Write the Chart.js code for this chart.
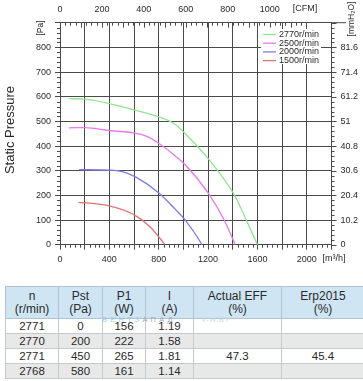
<!DOCTYPE html>
<html>
<head>
<meta charset="utf-8">
<script src="https://cdn.jsdelivr.net/npm/chart.js@4.4.1/dist/chart.umd.min.js"></script>
<style>
  html, body { margin: 0; padding: 0; }
  body { background: #fff; width: 363px; height: 381px; overflow: hidden; position: relative;
         font-family: "Liberation Sans", Arial, sans-serif; color: #2a2a2a; }
  #fan-chart { position: absolute; left: 0; top: 0; }
  #specs { position: absolute; left: 5px; top: 286px; width: 353px; border-collapse: collapse; table-layout: fixed; }
  #specs th { background: #cfe5f4; font-weight: normal; font-size: 12px; line-height: 13px; height: 31px;
              padding: 0; border: 1px solid #b3c2cc; color: #2a2a2a; }
  #specs td { font-size: 11.5px; height: 14px; line-height: 14px; padding: 0; text-align: center;
              border: 1px solid #c4c9cc; color: #2a2a2a; }
  #specs tr:nth-child(even) td { background: #e8e8e8; }
  .wm { position: absolute; top: 316px; font-size: 7.5px; line-height: 8px; letter-spacing: 3.2px; }
</style>
</head>
<body>
<canvas id="fan-chart" width="363" height="283"></canvas>
<table id="specs"><thead><tr></tr></thead><tbody></tbody></table>
<span class="wm" style="left:102px"><span style="color:#9ccbec">ВЕНТЗ</span><span style="color:#a8a8a8">АПАД</span></span>
<span class="wm" style="left:201px;color:#c9d9e6;letter-spacing:0.5px">V-W.BY</span>
<script>
// fan curves, flow in m3/h, static pressure in Pa
const flow2770 = [73, 204, 408, 612, 803, 884, 939, 1015, 1211, 1415, 1500, 1600];
const pst2770  = [592, 590, 571, 545, 518, 502, 486, 450, 343, 200, 110, 0];
const flow2500 = [73, 204, 408, 612, 718, 803, 939, 1015, 1211, 1330, 1420];
const pst2500  = [474, 475, 462, 452, 436, 410, 358, 324, 202, 100, 0];
const flow2000 = [155, 408, 503, 612, 803, 939, 1015, 1143, 1150];
const pst2000  = [304, 302, 296, 275, 209, 141, 100, 7, 0];
const flow1500 = [150, 204, 408, 612, 735, 816, 850];
const pst1500  = [171, 170, 156, 118, 70, 22, 0];

const speedLabels = ['2770r/min', '2500r/min', '2000r/min', '1500r/min'];
const curveColors = ['#8fe58f', '#e67ce6', '#7c7ce4', '#e07474'];

const cfmTicks = [0, 200, 400, 600, 800, 1000];
const paTicks = [0, 100, 200, 300, 400, 500, 600, 700, 800];
const CFM = 1.699;      // m3/h per CFM
const MMH2O = 0.102;    // mmH2O per Pa

// table under the chart
const tableHead = ['n<br>(r/min)', 'Pst<br>(Pa)', 'P1<br>(W)', 'I<br>(A)', 'Actual EFF<br>(%)', 'Erp2015<br>(%)'];
const colWidths = [52, 43, 42, 47, 87, 82];
const rowSpeed = [2771, 2770, 2771, 2768];
const rowPst = [0, 200, 450, 580];
const rowP1 = [156, 222, 265, 161];
const rowI = ['1.19', '1.58', '1.81', '1.14'];
const rowEff = ['', '', '47.3', ''];
const rowErp = ['', '', '45.4', ''];

const gridColor = '#4a4a4a';
const textColor = '#2a2a2a';

const headRow = document.querySelector('#specs thead tr');
tableHead.forEach((h, i) => {
  const th = document.createElement('th');
  th.innerHTML = h;
  th.style.width = colWidths[i] + 'px';
  headRow.appendChild(th);
});
const body = document.querySelector('#specs tbody');
rowSpeed.forEach((n, i) => {
  const tr = document.createElement('tr');
  [n, rowPst[i], rowP1[i], rowI[i], rowEff[i], rowErp[i]].forEach(v => {
    const td = document.createElement('td');
    td.textContent = v;
    tr.appendChild(td);
  });
  body.appendChild(tr);
});

function pts(xs, ys) {
  return xs.map((x, i) => ({x: x, y: ys[i]}));
}

const curves = [[flow2770, pst2770], [flow2500, pst2500], [flow2000, pst2000], [flow1500, pst1500]];

// extra axis decoration: minor ticks, unit labels, legend
const decorations = {
  id: 'decorations',
  afterDraw(chart) {
    const {ctx, chartArea: a, scales} = chart;
    const x = scales.x, y = scales.y;
    ctx.save();
    ctx.strokeStyle = gridColor;
    ctx.lineWidth = 1;
    ctx.beginPath();
    for (let v = 0; v <= 900; v += 20) {
      const py = Math.round(y.getPixelForValue(v)) + 0.5;
      if (v % 100) { ctx.moveTo(a.left - 3, py); ctx.lineTo(a.left, py); }
      ctx.moveTo(a.right, py); ctx.lineTo(a.right + (v % 100 ? 3 : 5), py);
    }
    for (let v = 40; v < 2200; v += 40) {
      if (v % 200 === 0) continue;
      const px = Math.round(x.getPixelForValue(v)) + 0.5;
      ctx.moveTo(px, a.bottom); ctx.lineTo(px, a.bottom + 3);
    }
    for (let c = 25; c <= 1150; c += 25) {
      const px = Math.round(x.getPixelForValue(c * CFM)) + 0.5;
      ctx.moveTo(px, a.top); ctx.lineTo(px, a.top + (c % 100 ? 3 : 5));
    }
    ctx.moveTo(a.right, a.top); ctx.lineTo(346, a.top);
    ctx.stroke();

    // legend
    ctx.fillStyle = '#fff';
    ctx.fillRect(261, 29, 60, 35);
    ctx.font = '9px "Liberation Sans", Arial, sans-serif';
    ctx.textBaseline = 'middle';
    ctx.textAlign = 'left';
    chart.data.datasets.forEach((ds, i) => {
      const ly = 34.5 + i * 8.7;
      ctx.strokeStyle = ds.borderColor;
      ctx.lineWidth = 1.3;
      ctx.beginPath();
      ctx.moveTo(263, ly); ctx.lineTo(276, ly);
      ctx.stroke();
      ctx.fillStyle = textColor;
      ctx.fillText(ds.label, 279, ly);
    });

    // unit and axis titles
    ctx.fillStyle = textColor;
    ctx.textAlign = 'center';
    ctx.font = '9px "Liberation Sans", Arial, sans-serif';
    ctx.fillText('[CFM]', 305, 9);
    ctx.fillText('[m³/h]', 334, 259);
    const vtext = (t, cx, cy, size) => {
      ctx.save();
      ctx.translate(cx, cy);
      ctx.rotate(-Math.PI / 2);
      ctx.font = size + 'px "Liberation Sans", Arial, sans-serif';
      ctx.fillText(t, 0, 0);
      ctx.restore();
    };
    vtext('[Pa]', 40.5, 28, 8.5);
    vtext('[mmH₂O]', 352, 19, 8.5);
    vtext('Static Pressure', 10, 130, 13);
    ctx.restore();
  }
};

const tickFont = {family: '"Liberation Sans", Arial, sans-serif', size: 9};

const chart = new Chart(document.getElementById('fan-chart'), {
  type: 'scatter',
  data: {
    datasets: curves.map((c, i) => ({
      label: speedLabels[i],
      data: pts(c[0], c[1]),
      showLine: true,
      borderColor: curveColors[i],
      backgroundColor: curveColors[i],
      borderWidth: 1.3,
      pointRadius: 0,
      cubicInterpolationMode: 'monotone'
    }))
  },
  options: {
    responsive: false,
    animation: false,
    devicePixelRatio: 1,
    layout: {padding: 0, autoPadding: false},
    plugins: {
      legend: {display: false},
      tooltip: {enabled: false}
    },
    scales: {
      x: {
        type: 'linear', position: 'bottom', min: 0, max: 2200,
        afterFit: s => { s.height = 38.3; },
        ticks: {stepSize: 200, autoSkip: false, maxRotation: 0, padding: 4, color: textColor, font: tickFont,
                callback: v => (v % 400 === 0 ? v : '')},
        grid: {color: gridColor, lineWidth: 1, tickLength: 5},
        border: {color: gridColor}
      },
      x2: {
        type: 'linear', position: 'top', min: 0, max: 2200,
        afterFit: s => { s.height = 22.7; },
        afterBuildTicks: s => { s.ticks = cfmTicks.map(c => ({value: c * CFM})); },
        ticks: {autoSkip: false, maxRotation: 0, padding: -0.5, color: textColor, font: tickFont,
                callback: v => Math.round(v / CFM)},
        grid: {display: false},
        border: {color: gridColor}
      },
      y: {
        min: 0, max: 900,
        afterFit: s => { s.width = 60; },
        ticks: {stepSize: 100, padding: 4, color: textColor, font: tickFont,
                callback: v => (v === 900 ? '' : v)},
        grid: {color: gridColor, lineWidth: 1, tickLength: 5},
        border: {color: gridColor}
      },
      y2: {
        position: 'right', min: 0, max: 900,
        afterFit: s => { s.width = 31.5; },
        afterBuildTicks: s => { s.ticks = paTicks.map(v => ({value: v})); },
        ticks: {padding: 1, color: textColor, font: tickFont,
                callback: v => String(parseFloat((v * MMH2O).toFixed(1)))},
        grid: {display: false},
        border: {color: gridColor}
      }
    }
  },
  plugins: [decorations]
});
</script>
</body>
</html>
